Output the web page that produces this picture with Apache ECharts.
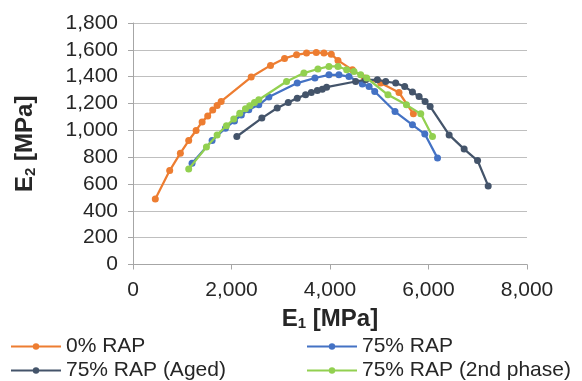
<!DOCTYPE html>
<html>
<head>
<meta charset="utf-8">
<script src="https://cdn.jsdelivr.net/npm/echarts@6/dist/echarts.min.js"></script>
<style>html,body{margin:0;padding:0;background:#fff}#c{width:582px;height:381px}</style>
</head>
<body>
<div id="c"></div>
<script>
var seriesNames = ['0% RAP', '75% RAP', '75% RAP (Aged)', '75% RAP (2nd phase)'];
var rap0 = [[453,489],[745,700],[962,830],[1131,924],[1281,999],[1403,1063],[1517,1106],[1619,1151],[1708,1185],[1790,1215],[2400,1397],[2792,1484],[3077,1536],[3321,1563],[3524,1576],[3721,1581],[3877,1576],[4026,1568],[4162,1521],[4454,1451],[4700,1390],[5030,1352],[5401,1282],[5693,1123]];
var rap75 = [[1199,755],[1606,924],[1877,1016],[2060,1070],[2200,1115],[2351,1153],[2554,1190],[2758,1248],[3335,1352],[3694,1390],[3979,1414],[4181,1414],[4385,1401],[4657,1345],[4793,1327],[4908,1290],[5320,1140],[5674,1041],[5925,972],[6183,793]];
var rap75aged = [[2108,954],[2616,1091],[2928,1166],[3152,1208],[3335,1240],[3504,1265],[3620,1282],[3742,1297],[3843,1307],[3931,1322],[4521,1364],[4724,1377],[4962,1377],[5131,1364],[5334,1352],[5517,1327],[5674,1285],[5809,1252],[5931,1215],[6033,1178],[6419,966],[6724,860],[6996,775],[7212,586]];
var rap75second = [[1131,712],[1491,875],[1708,966],[1897,1034],[2046,1084],[2168,1128],[2284,1160],[2371,1183],[2467,1208],[2554,1228],[3118,1364],[3470,1427],[3755,1457],[3979,1476],[4162,1476],[4338,1451],[4487,1439],[4623,1414],[4745,1390],[5177,1265],[5552,1190],[5843,1123],[6081,954]];
var colors = ['#ED7D31', '#4472C4', '#44546A', '#92D050'];
var dataSets = [rap0, rap75, rap75aged, rap75second];

var font = 'Liberation Sans, Arial, sans-serif';
var chart = echarts.init(document.getElementById('c'), null, {renderer: 'canvas'});
var fmt = function (v) { return Number(v).toLocaleString('en-US'); };
var series = seriesNames.map(function (n, i) {
  return {
    name: n, type: 'line', data: dataSets[i],
    symbol: 'circle', symbolSize: 7, showSymbol: true,
    lineStyle: {width: 2.25, color: colors[i]},
    itemStyle: {color: colors[i]},
    z: 2 + i,
    animation: false
  };
});
var legendText = {fontFamily: font, fontSize: 21, color: '#262626'};
var titleRich = {
  b: {fontFamily: font, fontSize: 24, fontWeight: 'bold', color: '#262626'},
  s: {fontFamily: font, fontSize: 15, fontWeight: 'bold', color: '#262626', verticalAlign: 'bottom', padding: [10, 0, 0, 0]}
};
chart.setOption({
  animation: false,
  color: colors,
  grid: {left: 133, right: 55, top: 23, bottom: 116.5, containLabel: false},
  xAxis: {
    type: 'value', min: 0, max: 8000, interval: 2000,
    name: '{b|E}{s|1}{b| [MPa]}', nameLocation: 'middle', nameGap: 42,
    nameTextStyle: {rich: titleRich},
    axisLine: {show: true, lineStyle: {color: '#a6a6a6', width: 1}},
    axisTick: {show: true, inside: false, length: 5, lineStyle: {color: '#a6a6a6'}},
    axisLabel: {formatter: fmt, fontFamily: font, fontSize: 21, color: '#262626', margin: 15},
    splitLine: {show: false}
  },
  yAxis: {
    type: 'value', min: 0, max: 1800, interval: 200,
    name: '{b|E}{s|2}{b| [MPa]}', nameLocation: 'middle', nameGap: 95, nameRotate: 90,
    nameTextStyle: {rich: titleRich},
    axisLine: {show: true, lineStyle: {color: '#a6a6a6', width: 1}},
    axisTick: {show: true, inside: false, length: 5, lineStyle: {color: '#a6a6a6'}},
    axisLabel: {formatter: fmt, fontFamily: font, fontSize: 21, color: '#262626', margin: 15},
    splitLine: {show: true, lineStyle: {color: '#bfbfbf', width: 1}}
  },
  legend: [
    {data: [seriesNames[0], seriesNames[2]], orient: 'vertical', left: 10, top: 336, padding: 0, itemWidth: 50, itemHeight: 8, itemGap: 3, textStyle: legendText},
    {data: [seriesNames[1], seriesNames[3]], orient: 'vertical', left: 306, top: 336, padding: 0, itemWidth: 50, itemHeight: 8, itemGap: 3, textStyle: legendText}
  ],
  series: series
});
</script>
</body>
</html>
